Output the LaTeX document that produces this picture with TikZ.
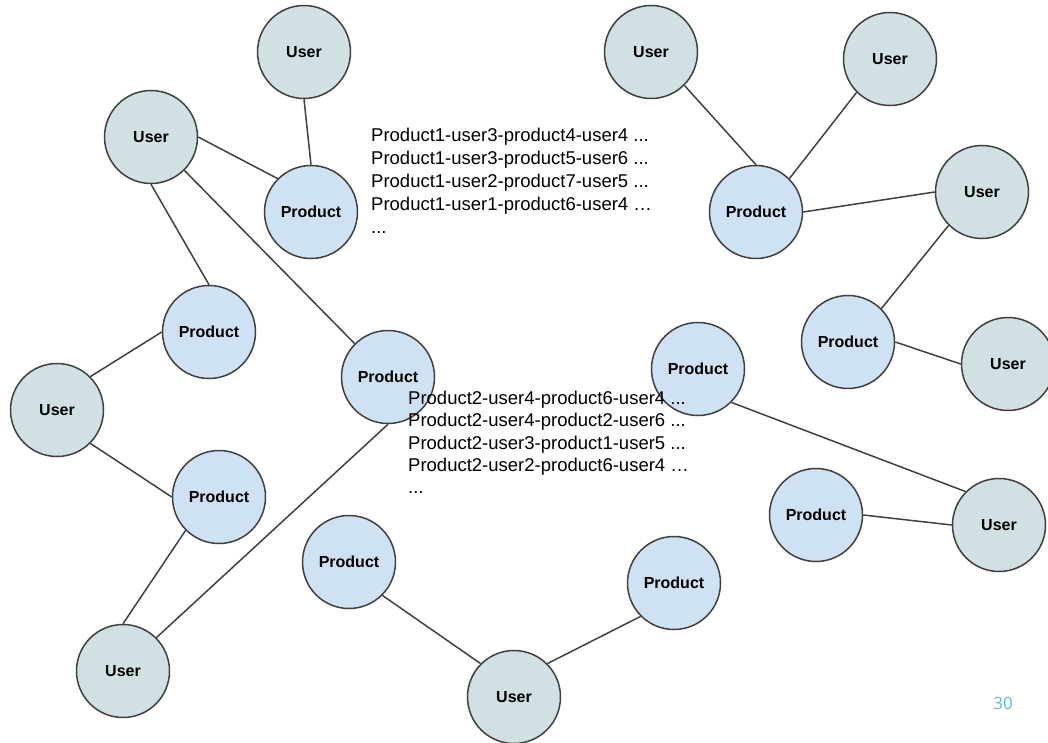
\documentclass[tikz,border=0pt]{standalone}
\usepackage{fontspec}
\setmainfont{Liberation Sans}
\newfontfamily\numfont{Open Sans}
\definecolor{userfill}{HTML}{D0E0E3}
\definecolor{prodfill}{HTML}{CFE2F3}
\definecolor{edgecol}{HTML}{404040}
\definecolor{pagenum}{HTML}{62B3E0}
\tikzset{
  ent/.style={circle, draw=edgecol, line width=1.5pt, minimum size=93pt, inner sep=0pt,
    font=\bfseries\fontsize{16}{18}\selectfont},
  usernode/.style={ent, fill=userfill},
  prodnode/.style={ent, fill=prodfill},
  link/.style={draw=edgecol, line width=1.5pt},
  pathtext/.style={anchor=north west, inner sep=0pt, align=left}
}
\begin{document}
\begin{tikzpicture}[x=1pt,y=-1pt]
\useasboundingbox (0,0) rectangle (1048,743);
% nodes
\node[usernode] (u1) at (304,52) {User};
\node[usernode] (u2) at (151,137) {User};
\node[prodnode] (p1) at (311,212) {Product};
\node[prodnode] (p2) at (209,332) {Product};
\node[usernode] (u3) at (57,410) {User};
\node[prodnode] (p3) at (388,377) {Product};
\node[prodnode] (p4) at (219,497) {Product};
\node[usernode] (u4) at (123,671) {User};
\node[prodnode] (p5) at (349,562) {Product};
\node[usernode] (u5) at (514,697) {User};
\node[prodnode] (p6) at (674,583) {Product};
\node[prodnode] (p7) at (698,369) {Product};
\node[usernode] (u6) at (999,525) {User};
\node[prodnode] (p8) at (816,515) {Product};
\node[usernode] (u7) at (651,52) {User};
\node[usernode] (u8) at (890,59) {User};
\node[prodnode] (p9) at (756,212) {Product};
\node[usernode] (u9) at (982,192) {User};
\node[prodnode] (p10) at (848,342) {Product};
\node[usernode] (u10) at (1008,364) {User};
% edges
\draw[link] (u1.south) -- (p1.north);
\draw[link] (u2.east) -- (p1.north west);
\draw[link] (u2.south) -- (p2.north);
\draw[link] (u2.south east) -- (p3.north west);
\draw[link] (p2.west) -- (u3.north east);
\draw[link] (u3.south east) -- (p4.west);
\draw[link] (p4.south west) -- (u4.north);
\draw[link] (u4.north east) -- (p3.south);
\draw[link] (p5.south east) -- (u5.north west);
\draw[link] (u5.north east) -- (p6.south west);
\draw[link] (p7.south east) -- (u6.north west);
\draw[link] (p8.east) -- (u6.west);
\draw[link] (u7.south east) -- (p9.north);
\draw[link] (u8.south west) -- (p9.north east);
\draw[link] (p9.east) -- (u9.west);
\draw[link] (u9.south west) -- (p10.north east);
\draw[link] (p10.east) -- (u10.west);
% texts
\node[pathtext, font=\fontsize{18.5}{23}\selectfont] (t1) at (371,128)
  {Product1-user3-product4-user4 ...\\Product1-user3-product5-user6 ...\\Product1-user2-product7-user5 ...\\Product1-user1-product6-user4 …\\...};
\node[pathtext, font=\fontsize{18.5}{22.2}\selectfont] (t2) at (408,391)
  {Product2-user4-product6-user4 ...\\Product2-user4-product2-user6 ...\\Product2-user3-product1-user5 ...\\Product2-user2-product6-user4 …\\...};
\node[font=\numfont\fontsize{17}{20}\selectfont, text=pagenum, inner sep=0pt] (pn) at (1003,703) {30};
\end{tikzpicture}
\end{document}
